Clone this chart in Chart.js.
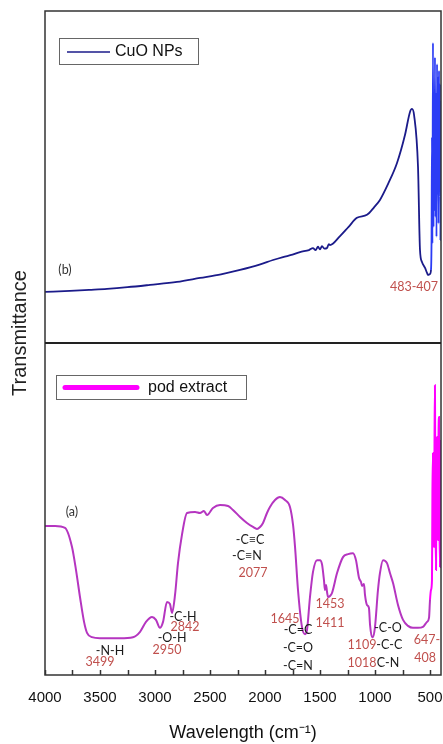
<!DOCTYPE html>
<html>
<head>
<meta charset="utf-8">
<script src="https://cdn.jsdelivr.net/npm/chart.js@4.4.1/dist/chart.umd.min.js"></script>
<style>
  html, body { margin: 0; padding: 0; background: #fff; }
  #wrap { position: relative; width: 443px; height: 744px; }
</style>
</head>
<body>
<div id="wrap"><canvas id="ftir" width="443" height="744"></canvas></div>
<script>
// CuO NPs spectrum (top panel)
const cuoWavenumber = [4000, 3773, 3600, 3436, 3250, 3045, 2800, 2591, 2400, 2227, 2050, 1927, 1836, 1750,
  1682, 1600, 1564, 1540, 1518, 1500, 1482, 1460, 1436, 1420, 1409, 1318, 1240, 1164, 1073, 1010, 955, 880,
  800, 727, 682, 664, 645, 609, 591, 573, 545, 527, 518, 500, 491, 486, 482, 478, 473, 468, 464, 459, 455,
  450, 445, 441, 436, 432, 427, 423, 418, 414, 409, 405, 400];
const cuoT = [15.4, 15.7, 16.0, 16.3, 16.8, 17.5, 18.4, 19.6, 20.7, 22.0, 23.6, 25.0, 25.9, 26.6,
  27.4, 28.0, 28.6, 28.0, 29.0, 28.2, 29.2, 28.4, 28.6, 29.8, 29.5, 32.2, 35.0, 37.7, 38.6, 40.8, 43.1, 48.0,
  54.2, 62.7, 69.6, 70.5, 68.7, 53.0, 28.0, 24.4, 22.6, 21.1, 20.5, 20.8, 22.0, 31, 62, 30, 90.4, 35, 70, 40, 86,
  38, 75, 32, 84, 45, 80, 36, 82, 48, 78, 31, 73];

// pod extract spectrum (bottom panel)
const podWavenumber = [4000, 3909, 3818, 3755, 3718, 3682, 3645, 3618, 3573, 3500, 3318, 3200, 3136, 3082,
  3027, 2991, 2955, 2927, 2891, 2864, 2845, 2818, 2791, 2755, 2709, 2636, 2591, 2555, 2527, 2473, 2409, 2336,
  2291, 2227, 2164, 2109, 2073, 2045, 2018, 1982, 1955, 1909, 1864, 1818, 1773, 1745, 1727, 1700, 1664, 1636,
  1618, 1591, 1564, 1527, 1500, 1482, 1464, 1455, 1445, 1436, 1427, 1409, 1391, 1345, 1291, 1245, 1200, 1173,
  1145, 1127, 1118, 1100, 1091, 1073, 1055, 1045, 1027, 1018, 1000, 973, 955, 927, 891, 864, 836, 791, 745,
  700, 655, 609, 564, 527, 509, 500, 491, 482, 478, 473, 468, 464, 459, 455, 450, 445, 441, 436, 432, 427,
  423, 418, 414, 409, 405, 400];
const podT = [44.9, 44.9, 44.3, 38.6, 31.6, 23.5, 16.0, 12.7, 11.4, 11.1, 11.1, 11.4, 13.0, 16.0,
  17.5, 16.6, 14.2, 16.0, 22.0, 21.4, 18.7, 24.1, 33.7, 42.2, 48.8, 49.1, 48.8, 49.4, 48.2, 50.3, 51.2, 50.9,
  49.7, 47.6, 45.8, 44.6, 44.0, 44.6, 45.8, 48.8, 50.6, 52.7, 53.6, 52.7, 50.6, 45.2, 38.6, 25.6, 14.5, 12.3,
  13.6, 23.5, 31.0, 34.6, 34.6, 33.4, 28.6, 25.6, 27.1, 25.0, 23.5, 23.8, 24.7, 30.7, 35.5, 36.4, 36.7, 34.6,
  29.2, 28.0, 26.8, 27.4, 24.1, 21.1, 20.2, 15.1, 11.4, 11.4, 14.5, 25.6, 30.7, 34.6, 33.7, 30.7, 27.7, 21.1, 16.6,
  14.8, 14.2, 14.2, 14.5, 16.0, 17.2, 22.6, 25.6, 28.6, 55, 66.9, 40, 38.6, 70, 87.3, 45, 31.6, 62, 71.7, 42, 40.7,
  70, 77.7, 45, 32.5, 68, 70.8];

const xTickValues = [4000, 3750, 3500, 3250, 3000, 2750, 2500, 2250, 2000, 1750, 1500, 1250, 1000, 750, 500];

// band labels: [text, wavenumber, value, colour]
const RED = '#c0504d', INK = '#1a1a1a';
const cuoLabels = [
  ['(b)', 3818, 22.0, '#333'],
  ['483-407', 645, 16.9, RED]
];
const podLabels = [
  ['(a)', 3755, 49.1, '#333'],
  ['-C\u2261C', 2136, 40.7, INK],
  ['-C\u2261N', 2164, 35.8, INK],
  ['2077', 2109, 30.7, RED],
  ['-C-H', 2745, 17.5, INK],
  ['2842', 2727, 14.5, RED],
  ['-O-H', 2845, 11.1, INK],
  ['2950', 2891, 7.5, RED],
  ['-N-H', 3409, 7.2, INK],
  ['3499', 3500, 3.9, RED],
  ['1645', 1818, 16.9, RED],
  ['-C=C', 1700, 13.6, INK],
  ['-C=O', 1700, 8.1, INK],
  ['-C=N', 1700, 2.7, INK],
  ['1453', 1409, 21.4, RED],
  ['1411', 1409, 15.7, RED],
  ['-C-O', 882, 14.2, INK],
  ['1109', 1118, 9.0, RED],
  ['-C-C', 870, 9.0, INK],
  ['1018', 1118, 3.6, RED],
  ['C-N', 882, 3.6, INK],
  ['647-', 527, 10.5, RED],
  ['408', 545, 5.1, RED]
];

const toPoints = (xs, ys) => xs.map((x, i) => ({x: x, y: ys[i]}));

const framePlugin = {
  id: 'frame',
  afterDraw(chart) {
    const ctx = chart.ctx;
    const a = chart.chartArea;
    const xs = chart.scales.x;
    const yTop = chart.scales.yCuo;
    const yBot = chart.scales.yPod;
    ctx.save();

    // outer frame + divider
    ctx.strokeStyle = '#333';
    ctx.lineWidth = 1.5;
    ctx.strokeRect(a.left, a.top, a.right - a.left, a.bottom - a.top);
    ctx.lineWidth = 2;
    ctx.strokeStyle = '#222';
    ctx.beginPath();
    ctx.moveTo(a.left, yTop.bottom);
    ctx.lineTo(a.right, yTop.bottom);
    ctx.stroke();

    // inward ticks on the bottom axis
    ctx.lineWidth = 1.5;
    ctx.strokeStyle = '#333';
    xTickValues.forEach(v => {
      const px = Math.round(xs.getPixelForValue(v)) + 0.5;
      ctx.beginPath();
      ctx.moveTo(px, a.bottom);
      ctx.lineTo(px, a.bottom - 5);
      ctx.stroke();
    });

    // legends
    ctx.font = '16px "Liberation Sans", Arial, sans-serif';
    ctx.textBaseline = 'middle';
    ctx.textAlign = 'left';
    ctx.lineWidth = 1;
    ctx.strokeStyle = '#666';
    ctx.strokeRect(a.left + 14.5, a.top + 27.5, 139, 26);
    ctx.strokeStyle = '#1b1b8a';
    ctx.lineWidth = 1.5;
    ctx.beginPath();
    ctx.moveTo(a.left + 22, a.top + 41);
    ctx.lineTo(a.left + 65, a.top + 41);
    ctx.stroke();
    ctx.fillStyle = '#111';
    ctx.fillText('CuO NPs', a.left + 70, a.top + 41);

    const t2 = yBot.top;
    ctx.lineWidth = 1;
    ctx.strokeStyle = '#666';
    ctx.strokeRect(a.left + 11.5, t2 + 32.5, 190, 24);
    ctx.strokeStyle = '#ff00ff';
    ctx.lineWidth = 5;
    ctx.lineCap = 'round';
    ctx.beginPath();
    ctx.moveTo(a.left + 20, t2 + 44.5);
    ctx.lineTo(a.left + 92, t2 + 44.5);
    ctx.stroke();
    ctx.lineCap = 'butt';
    ctx.fillStyle = '#111';
    ctx.fillText('pod extract', a.left + 103, t2 + 44.5);

    // band assignments
    ctx.font = '12.5px Lato, "Open Sans", sans-serif';
    ctx.textAlign = 'center';
    const put = (list, ys) => list.forEach(([txt, w, v, col]) => {
      ctx.fillStyle = col;
      ctx.fillText(txt, xs.getPixelForValue(w), ys.getPixelForValue(v));
    });
    put(cuoLabels, yTop);
    put(podLabels, yBot);

    // shared y title
    ctx.translate(20, 333);
    ctx.rotate(-Math.PI / 2);
    ctx.font = '20px "Liberation Sans", Arial, sans-serif';
    ctx.fillStyle = '#222';
    ctx.fillText('Transmittance', 0, 0);
    ctx.restore();
  }
};

const fixWidth = s => { s.width = 45; };
const hiddenY = {
  type: 'linear', position: 'left', stack: 'panels', stackWeight: 1,
  min: 0, max: 100,
  ticks: {display: false},
  grid: {display: false, drawTicks: false},
  border: {display: false},
  afterFit: fixWidth
};

new Chart(document.getElementById('ftir'), {
  type: 'line',
  data: {
    datasets: [
      {
        label: 'pod extract',
        data: toPoints(podWavenumber, podT),
        yAxisID: 'yPod',
        borderColor: '#b535c0',
        borderWidth: 2,
        pointRadius: 0,
        cubicInterpolationMode: 'monotone',
        segment: {borderColor: c => c.p0.parsed.x < 505 ? '#ff00ff' : undefined}
      },
      {
        label: 'CuO NPs',
        data: toPoints(cuoWavenumber, cuoT),
        yAxisID: 'yCuo',
        borderColor: '#1b1b8a',
        borderWidth: 1.8,
        pointRadius: 0,
        cubicInterpolationMode: 'monotone',
        segment: {borderColor: c => c.p0.parsed.x < 495 ? '#2b3cf5' : undefined}
      }
    ]
  },
  options: {
    responsive: false,
    devicePixelRatio: 1,
    animation: false,
    layout: {padding: {left: 0, right: 2, top: 11, bottom: 0}},
    plugins: {legend: {display: false}, tooltip: {enabled: false}},
    scales: {
      x: {
        type: 'linear', reverse: true, min: 400, max: 4000,
        afterBuildTicks: s => { s.ticks = xTickValues.map(v => ({value: v})); },
        afterFit: s => { s.height = 69; s.paddingLeft = 0; s.paddingRight = 0; },
        ticks: {
          autoSkip: false, maxRotation: 0, padding: 14, color: '#111',
          font: {family: '"Liberation Sans", Arial, sans-serif', size: 15},
          callback: v => (v % 500 === 0 ? String(v) : '')
        },
        grid: {display: false, drawTicks: false},
        border: {display: false},
        title: {
          display: true, text: 'Wavelength (cm\u207B\u00B9)', color: '#111',
          font: {family: '"Liberation Sans", Arial, sans-serif', size: 18},
          padding: {top: 0, bottom: 0}
        }
      },
      yPod: Object.assign({}, hiddenY),
      yCuo: Object.assign({}, hiddenY)
    }
  },
  plugins: [framePlugin]
});
</script>
</body>
</html>
